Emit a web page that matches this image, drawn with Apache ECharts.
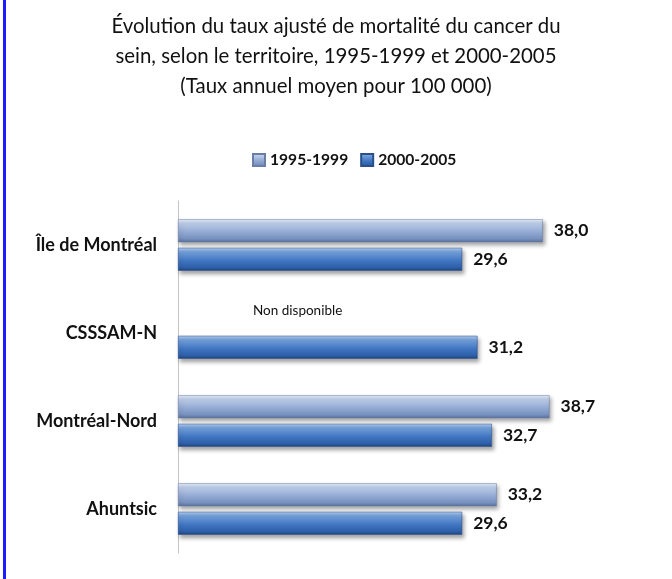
<!DOCTYPE html>
<html>
<head>
<meta charset="utf-8">
<script src="https://cdn.jsdelivr.net/npm/echarts@6/dist/echarts.min.js"></script>
<style>
html,body{margin:0;padding:0;background:#fff;}
#frame{position:absolute;left:0;top:0;width:672px;height:579px;}
#bar{position:absolute;left:3px;top:0;width:3px;height:579px;background:#1a1aff;}
#c{position:absolute;left:0;top:0;width:672px;height:579px;}
</style>
</head>
<body>
<div id="frame"><div id="c"></div><div id="bar"></div></div>
<script>
const categories = ['Île de Montréal', 'CSSSAM-N', 'Montréal-Nord', 'Ahuntsic'];
const seriesNames = ['1995-1999', '2000-2005'];
const values1995 = [38.0, null, 38.7, 33.2];
const values2000 = [29.6, 31.2, 32.7, 29.6];
const missingText = 'Non disponible';
const missingCategory = 'CSSSAM-N';
const titleLines = ['Évolution du taux ajusté de mortalité du cancer du',
  'sein, selon le territoire, 1995-1999 et 2000-2005',
  '(Taux annuel moyen pour 100 000)'];

const FONT = 'Lato';
const grad1 = new echarts.graphic.LinearGradient(0, 0, 0, 1, [
  {offset: 0, color: '#e3ecf7'},
  {offset: 0.18, color: '#bccde8'},
  {offset: 0.55, color: '#93aad3'},
  {offset: 0.85, color: '#7890be'},
  {offset: 1, color: '#566f9c'}
]);
const grad2 = new echarts.graphic.LinearGradient(0, 0, 0, 1, [
  {offset: 0, color: '#b3cdef'},
  {offset: 0.18, color: '#74a0da'},
  {offset: 0.55, color: '#4277c2'},
  {offset: 0.85, color: '#2f60aa'},
  {offset: 1, color: '#1f4480'}
]);
const fmt = p => p.value == null ? '' : p.value.toFixed(1).replace('.', ',');
const labelStyle = {show: true, position: 'right', distance: 11, formatter: fmt,
  fontFamily: FONT, fontWeight: 'bold', fontSize: 17.5, color: '#111'};
const shadow = {shadowColor: 'rgba(0,0,0,0.35)', shadowBlur: 4, shadowOffsetX: 2, shadowOffsetY: 3};

const chart = echarts.init(document.getElementById('c'), null, {renderer: 'canvas'});
chart.setOption({
  animation: false,
  backgroundColor: '#fff',
  title: {
    text: titleLines.join('\n'), left: 'center', top: 6,
    textStyle: {fontFamily: FONT, fontSize: 20.4, fontWeight: 'normal', color: '#111', lineHeight: 30}
  },
  legend: {
    data: seriesNames, top: 147, left: 247, itemWidth: 12, itemHeight: 12, itemGap: 12,
    icon: 'rect',
    textStyle: {fontFamily: FONT, fontSize: 15.6, fontWeight: 'bold', color: '#111'}
  },
  grid: {left: 178, top: 201, width: 432, height: 352, containLabel: false},
  xAxis: {type: 'value', min: 0, max: 45, show: false},
  yAxis: {
    type: 'category', inverse: true, data: categories,
    axisLine: {show: true, lineStyle: {color: '#c4c4c4', width: 1}},
    axisTick: {show: false},
    axisLabel: {fontFamily: FONT, fontSize: 18, fontWeight: 'bold', color: '#111', margin: 21}
  },
  series: [
    {name: seriesNames[0], type: 'bar', data: values1995, barWidth: 23, barGap: '24%',
     itemStyle: Object.assign({color: grad1, borderColor: '#6a7fa6', borderWidth: 0.5}, shadow),
     label: labelStyle},
    {name: seriesNames[1], type: 'bar', data: values2000, barWidth: 23, barGap: '24%',
     itemStyle: Object.assign({color: grad2, borderColor: '#2a4f8a', borderWidth: 0.5}, shadow),
     label: labelStyle}
  ]
});
const pLeft = chart.convertToPixel({gridIndex: 0}, [0, missingCategory]);
chart.setOption({
  graphic: [{
    type: 'text', x: pLeft[0] + 75, y: pLeft[1] - 22,
    style: {text: missingText, fontFamily: FONT, fontSize: 13.5, fill: '#111', verticalAlign: 'middle', align: 'left'}
  }]
});
</script>
</body>
</html>
